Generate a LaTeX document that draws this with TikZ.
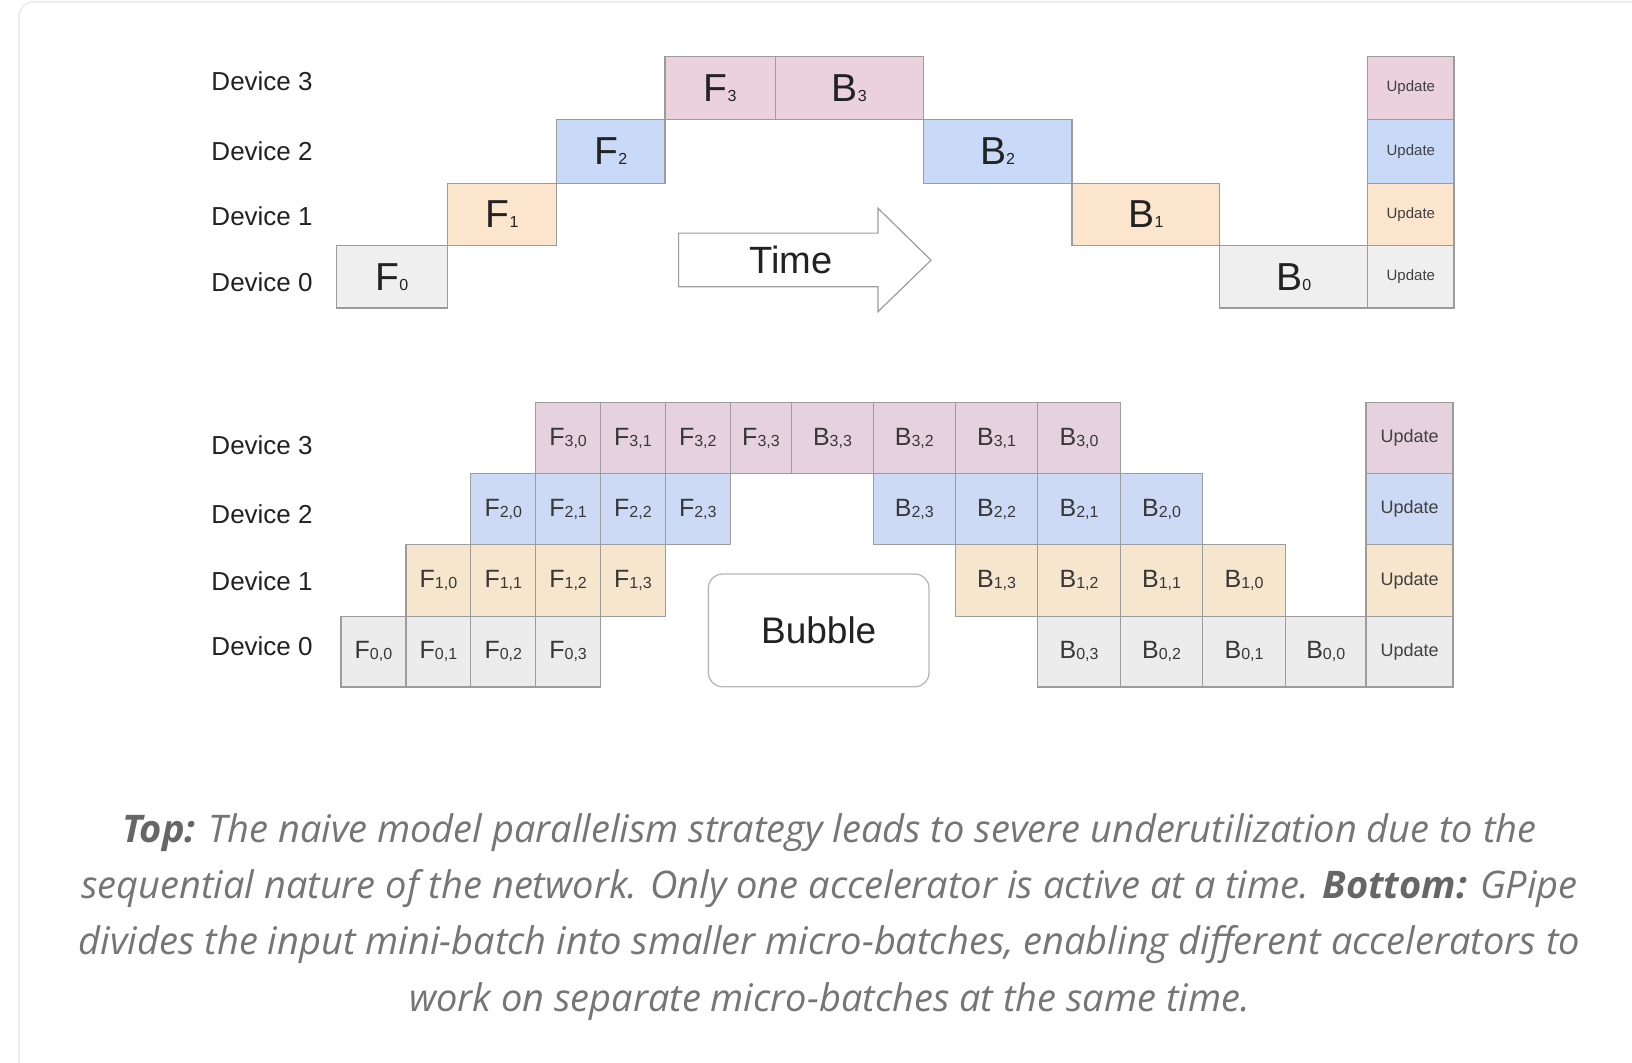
\documentclass[tikz,border=0pt]{standalone}
\usepackage{fontspec}
\setmainfont{Liberation Sans}
\newfontfamily\capfont{Open Sans}
\definecolor{pinkA}{HTML}{EAD1DC}
\definecolor{blueA}{HTML}{C9DAF8}
\definecolor{orangeA}{HTML}{FCE5CD}
\definecolor{grayA}{HTML}{EFEFEF}
\definecolor{pinkB}{HTML}{E6D2DF}
\definecolor{blueB}{HTML}{CCDAF5}
\definecolor{orangeB}{HTML}{F6E6CD}
\definecolor{grayB}{HTML}{ECECEC}
\definecolor{edgegray}{HTML}{9C9C9C}
\definecolor{captiongray}{HTML}{757575}
\definecolor{captionbold}{HTML}{666666}
\definecolor{framegray}{HTML}{EEEEEE}
\definecolor{inkdark}{HTML}{222222}
\newcommand\fsz[1]{\fontsize{#1bp}{#1bp}\selectfont}
\newcommand\tsub[1]{{\fsz{16}#1}}
\newcommand\bsub[1]{\raisebox{-1bp}{\fsz{16}#1}}
\newcommand\cell[7]{\node[#6, minimum width={(#4-#2)*1.0408bp}, minimum height={(#5-#3)*1.0408bp}]
  (#1) at ({(#2+#4)/2},{(#3+#5)/2}) {#7};}
\tikzset{
  cellbase/.style={draw=edgegray, line width=1.2bp, inner sep=0pt, outer sep=0pt, text=inkdark},
  topcell/.style={cellbase, font=\fsz{39}},
  botcell/.style={cellbase, font=\fsz{25}, text=black!78},
  updtop/.style={cellbase, font=\fsz{15}, text=black!75},
  updbot/.style={cellbase, font=\fsz{18}, text=black!75},
  devlabel/.style={anchor=west, font=\fsz{26}, text=inkdark, inner sep=0pt},
  capline/.style={anchor=base, font=\capfont\itshape\fsz{38}, text=captiongray, inner sep=0pt},
}
\begin{document}
\begin{tikzpicture}[x=1.0408bp, y=-1.0408bp]
\clip (0,0) rectangle (1568,1020.4);
\fill[white] (0,0) rectangle (1568,1020.4);
% frame
\draw[framegray, line width=2bp, rounded corners=14bp] (18.3,1100) -- (18.3,1.9) -- (1700,1.9);

% ---------- top diagram ----------
\node[devlabel] (td3) at (203,78) {Device 3};
\node[devlabel] (td2) at (203,145) {Device 2};
\node[devlabel] (td1) at (203,208) {Device 1};
\node[devlabel] (td0) at (203,271) {Device 0};

\cell{tf0}{323}{236}{430}{296}{topcell,fill=grayA}{F\tsub{0}}
\cell{tf1}{430}{176}{535}{236}{topcell,fill=orangeA}{F\tsub{1}}
\cell{tf2}{535}{114.5}{639}{176}{topcell,fill=blueA}{F\tsub{2}}
\cell{tf3}{639}{54}{745}{114.5}{topcell,fill=pinkA}{F\tsub{3}}
\cell{tb3}{745}{54}{887}{114.5}{topcell,fill=pinkA}{B\tsub{3}}
\cell{tb2}{887}{114.5}{1030}{176}{topcell,fill=blueA}{B\tsub{2}}
\cell{tb1}{1030}{176}{1172}{236}{topcell,fill=orangeA}{B\tsub{1}}
\cell{tb0}{1172}{236}{1314}{296}{topcell,fill=grayA}{B\tsub{0}}
\cell{tu3}{1314}{54}{1397}{114.5}{updtop,fill=pinkA}{Update}
\cell{tu2}{1314}{114.5}{1397}{176}{updtop,fill=blueA}{Update}
\cell{tu1}{1314}{176}{1397}{236}{updtop,fill=orangeA}{Update}
\cell{tu0}{1314}{236}{1397}{296}{updtop,fill=grayA}{Update}

% time arrow
\draw[edgegray, line width=1.2bp, fill=white, line join=miter]
  (652,224) -- (843.5,224) -- (843.5,200) -- (894.5,250) -- (843.5,299.5)
  -- (843.5,275.5) -- (652,275.5) -- cycle;
\node[font=\fsz{38}, text=inkdark, inner sep=0pt] (time) at (760,250) {Time};

% ---------- bottom diagram ----------
\node[devlabel] (bd3) at (203,428) {Device 3};
\node[devlabel] (bd2) at (203,494) {Device 2};
\node[devlabel] (bd1) at (203,558) {Device 1};
\node[devlabel] (bd0) at (203,621) {Device 0};

% row 3
\foreach \j/\xa/\xb in {0/514.7/577, 1/577/639.3, 2/639.3/701.6, 3/701.6/760.7}
  {\cell{bf3\j}{\xa}{387}{\xb}{455}{botcell,fill=pinkB}{F\bsub{3,\j}}}
\foreach \j/\xa/\xb in {3/760.7/839, 2/839/918, 1/918/997, 0/997/1076.5}
  {\cell{bb3\j}{\xa}{387}{\xb}{455}{botcell,fill=pinkB}{B\bsub{3,\j}}}
% row 2
\foreach \j/\xa/\xb in {0/452.4/514.7, 1/514.7/577, 2/577/639.3, 3/639.3/701.6}
  {\cell{bf2\j}{\xa}{455}{\xb}{523.5}{botcell,fill=blueB}{F\bsub{2,\j}}}
\foreach \j/\xa/\xb in {3/839/918, 2/918/997, 1/997/1076.5, 0/1076.5/1155.5}
  {\cell{bb2\j}{\xa}{455}{\xb}{523.5}{botcell,fill=blueB}{B\bsub{2,\j}}}
% row 1
\foreach \j/\xa/\xb in {0/390/452.4, 1/452.4/514.7, 2/514.7/577, 3/577/639.3}
  {\cell{bf1\j}{\xa}{523.5}{\xb}{592}{botcell,fill=orangeB}{F\bsub{1,\j}}}
\foreach \j/\xa/\xb in {3/918/997, 2/997/1076.5, 1/1076.5/1155.5, 0/1155.5/1235}
  {\cell{bb1\j}{\xa}{523.5}{\xb}{592}{botcell,fill=orangeB}{B\bsub{1,\j}}}
% row 0
\foreach \j/\xa/\xb in {0/327.6/390, 1/390/452.4, 2/452.4/514.7, 3/514.7/577}
  {\cell{bf0\j}{\xa}{592}{\xb}{660}{botcell,fill=grayB}{F\bsub{0,\j}}}
\foreach \j/\xa/\xb in {3/997/1076.5, 2/1076.5/1155.5, 1/1155.5/1235, 0/1235/1312.5}
  {\cell{bb0\j}{\xa}{592}{\xb}{660}{botcell,fill=grayB}{B\bsub{0,\j}}}
% updates
\cell{bu3}{1312.5}{387}{1396}{455}{updbot,fill=pinkB}{Update}
\cell{bu2}{1312.5}{455}{1396}{523.5}{updbot,fill=blueB}{Update}
\cell{bu1}{1312.5}{523.5}{1396}{592}{updbot,fill=orangeB}{Update}
\cell{bu0}{1312.5}{592}{1396}{660}{updbot,fill=grayB}{Update}

% bubble
\cell{bubble}{680.6}{551.5}{892.6}{659.8}{draw=black!28, line width=1.3bp, rounded corners=14bp, inner sep=0pt, font=\fsz{37}, text=inkdark}{Bubble}

% ---------- caption ----------
\node[capline] (cap1) at (797,809) {\textcolor{captionbold}{\bfseries Top:} The naive model parallelism strategy leads to severe underutilization due to the};
\node[capline] (cap2) at (797,863) {sequential nature of the network. Only one accelerator is active at a time. \textcolor{captionbold}{\bfseries Bottom:} GPipe};
\node[capline] (cap3) at (797,917) {divides the input mini-batch into smaller micro-batches, enabling different accelerators to};
\node[capline] (cap4) at (797,971.5) {work on separate micro-batches at the same time.};
\end{tikzpicture}
\end{document}
